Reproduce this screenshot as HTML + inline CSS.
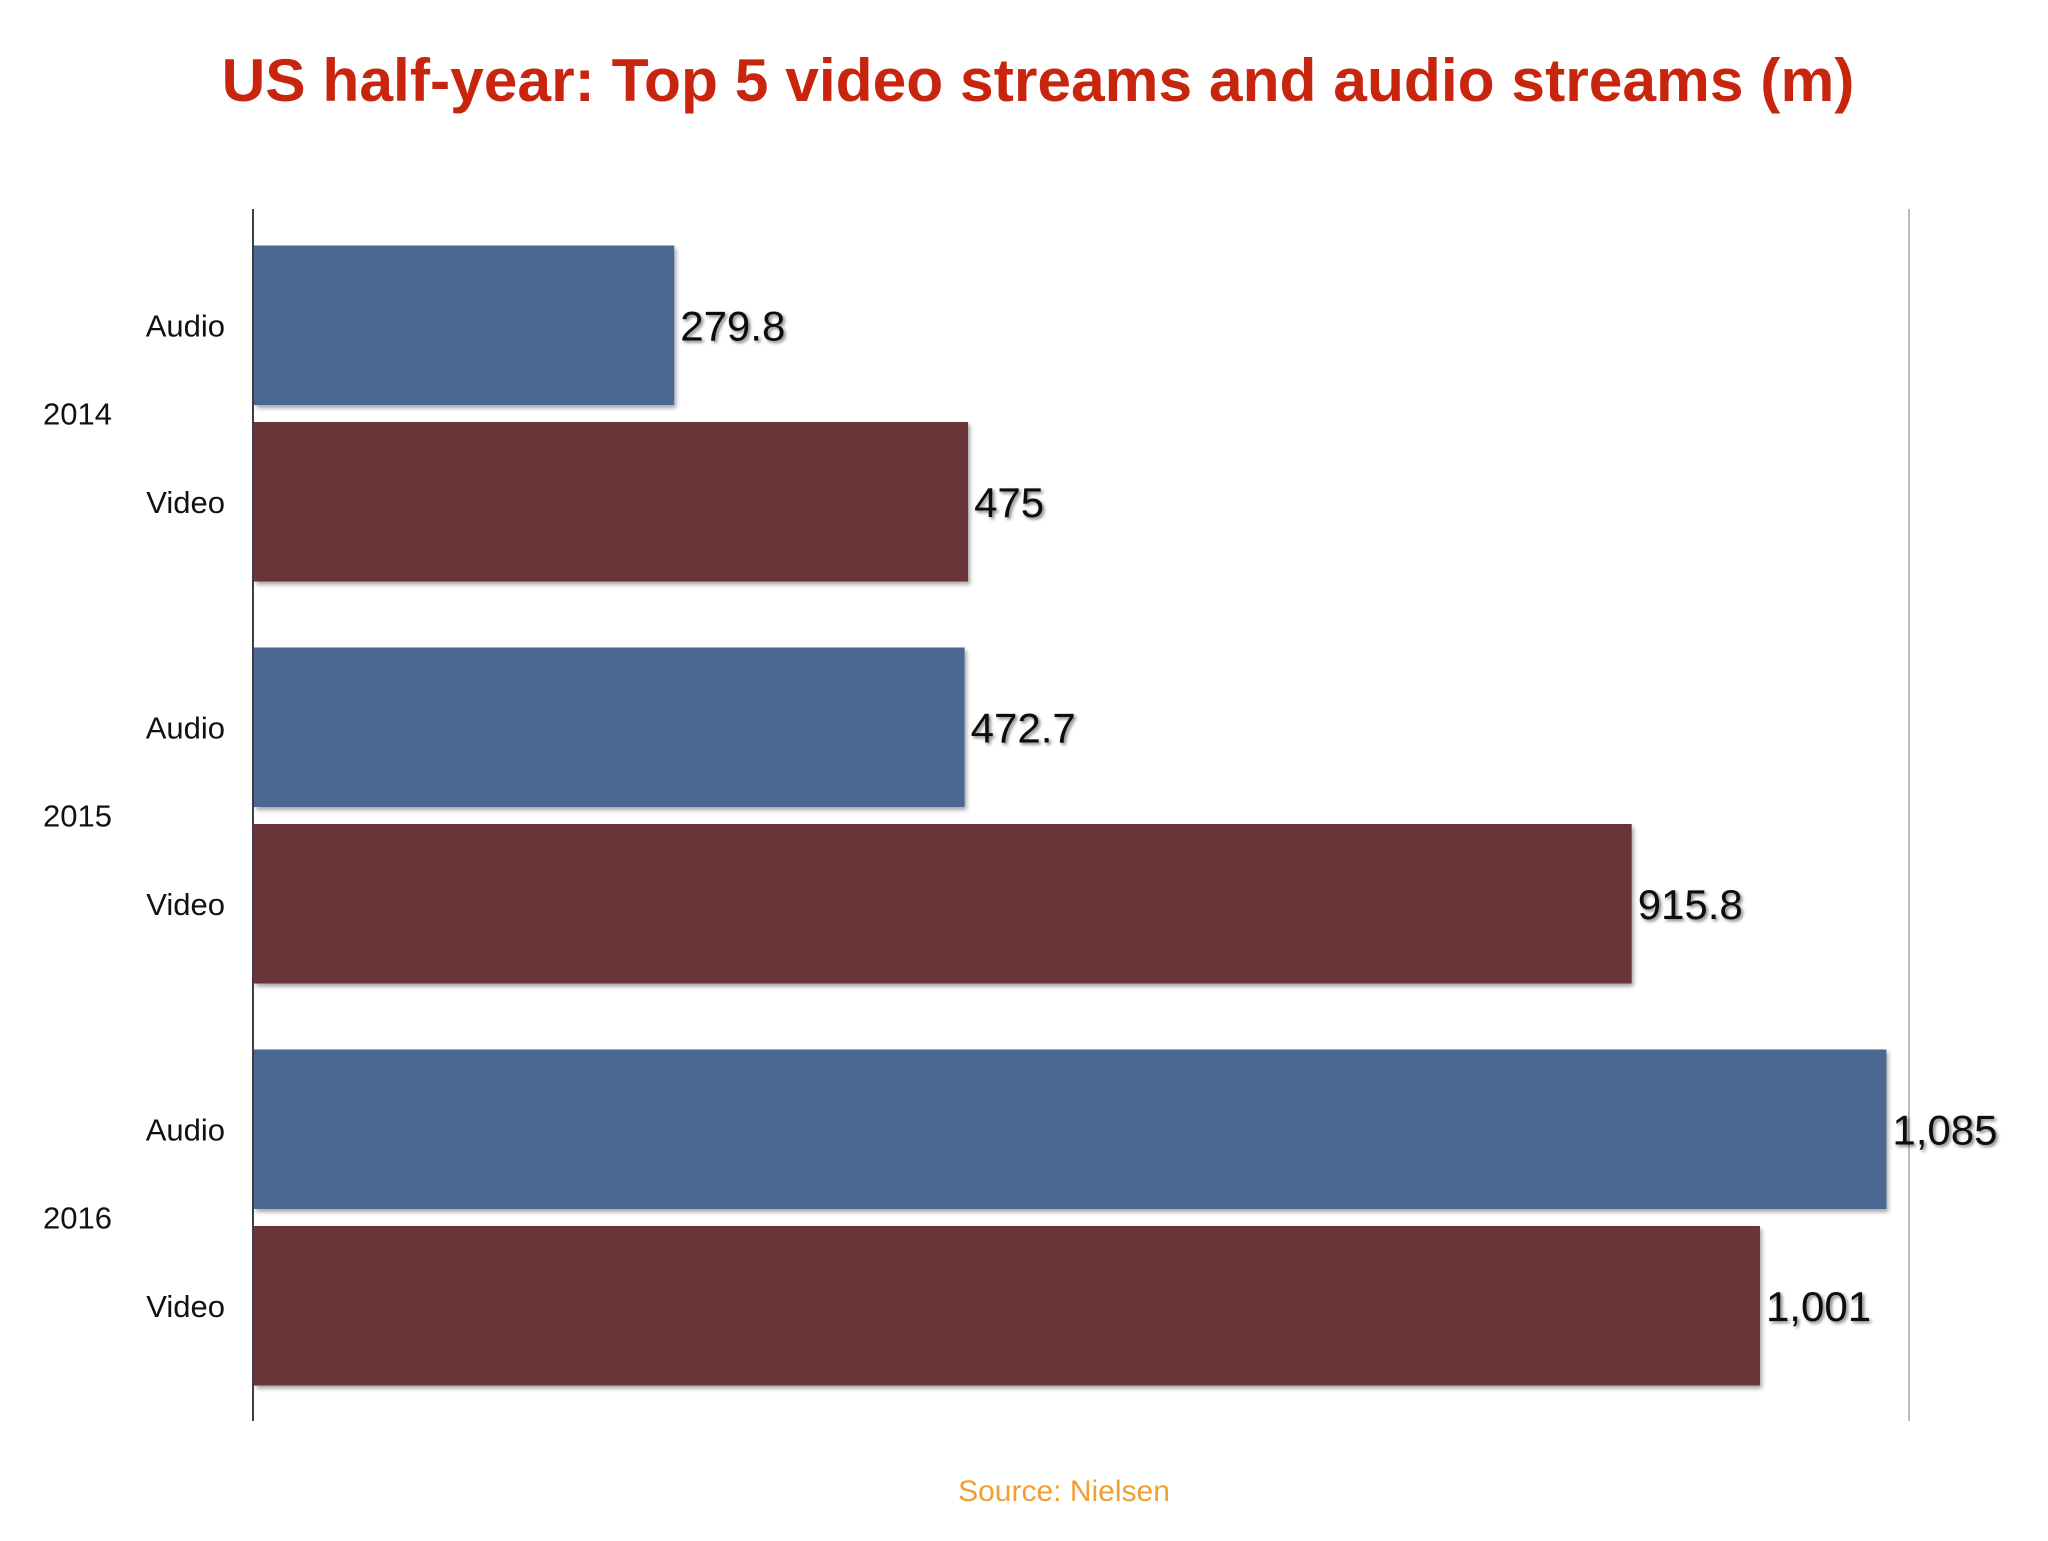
<!DOCTYPE html>
<html><head><meta charset="utf-8"><style>
body{margin:0;background:#fff;width:2048px;height:1536px;overflow:hidden;font-family:"Liberation Sans",Arial,sans-serif}
</style></head><body>
<svg id="chart" width="2048" height="1536" xmlns="http://www.w3.org/2000/svg">
<defs>
<filter id="sh" x="-5%" y="-5%" width="110%" height="120%"><feDropShadow dx="2" dy="3" stdDeviation="2" flood-color="#000" flood-opacity="0.35"/></filter>
<filter id="tsh"><feDropShadow dx="2" dy="2" stdDeviation="1.5" flood-color="#000" flood-opacity="0.5"/></filter>
</defs>
<text x="1038" y="101" text-anchor="middle" font-size="60.5" font-weight="bold" fill="#c8250e">US half-year: Top 5 video streams and audio streams (m)</text>
<line x1="253" y1="209" x2="253" y2="1421" stroke="#000" stroke-width="1.5"/>
<line x1="1909" y1="209" x2="1909" y2="1421" stroke="#999" stroke-width="1.3"/>
<g id="bars"></g>
<text x="1064" y="1501" text-anchor="middle" font-size="30" fill="#f0a030">Source: Nielsen</text>
</svg>
<script>
const years = ["2014","2015","2016"];
const audioValues = [279.8, 472.7, 1085];
const videoValues = [475, 915.8, 1001];
const audioLabels = ["279.8","472.7","1,085"];
const videoLabels = ["475","915.8","1,001"];
const xMax = 1100;
const x0 = 253, x1 = 1909;
function xs(v){return x0 + v/xMax*(x1-x0);}
const groupTop = 245.5, groupStep = 402, barH = 159.5, barGap = 17;
const g = document.getElementById('bars');
const NS = "http://www.w3.org/2000/svg";
function mk(tag, attrs){const e=document.createElementNS(NS,tag);for(const k in attrs)e.setAttribute(k,attrs[k]);return e;}
years.forEach((yr,i)=>{
  const top = groupTop + i*groupStep;
  const series = [["audio",audioValues[i],audioLabels[i],"#4b6990","Audio"],["video",videoValues[i],videoLabels[i],"#6a3437","Video"]];
  series.forEach((s,j)=>{
    const y = top + j*(barH+barGap);
    const r = mk('rect',{x:x0+1,y:y,width:xs(s[1])-x0-1,height:barH,fill:s[3],filter:'url(#sh)'});
    
    
    g.appendChild(r);
    const t = mk('text',{x:xs(s[1])+6,y:y+barH/2+15,'font-size':42,fill:'#111',filter:'url(#tsh)'});
    t.textContent = s[2];
    
    
    g.appendChild(t);
    const c = mk('text',{x:225,y:y+barH/2+11,'text-anchor':'end','font-size':31,fill:'#111'});
    c.textContent = s[4];
    
    
    g.appendChild(c);
  });
  const yl = mk('text',{x:43,y:top+barH+barGap/2+11,'font-size':31,fill:'#111'});
  yl.textContent = yr;
  
  
  g.appendChild(yl);
});
</script>
</body></html>
